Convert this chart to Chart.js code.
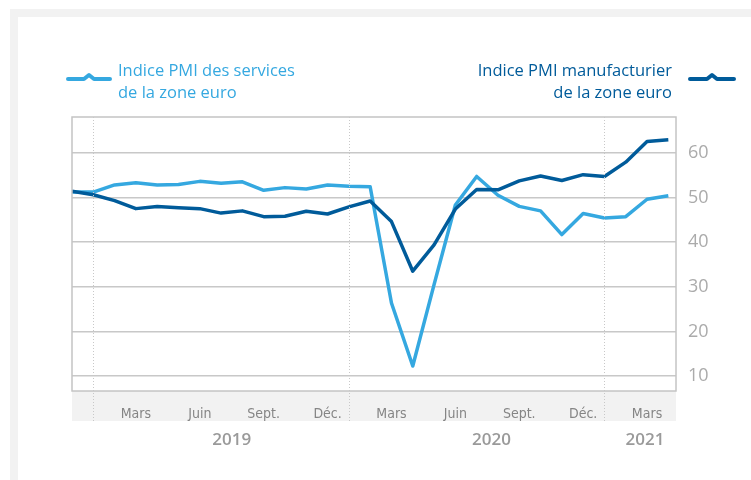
<!DOCTYPE html>
<html lang="fr">
<head>
<meta charset="UTF-8">
<title>PMI zone euro</title>
<script src="https://cdn.jsdelivr.net/npm/chart.js"></script>
<style>
  html, body { margin: 0; padding: 0; background: #fff; }
  body { width: 751px; height: 480px; position: relative; overflow: hidden; font-family: "Open Sans", sans-serif; }
  #frame { position: absolute; left: 10px; top: 9px; width: 800px; height: 500px; border-left: 8px solid #f2f2f2; border-top: 8px solid #f2f2f2; background: #fff; }
  #chart-wrap { position: absolute; left: 0; top: 0; width: 751px; height: 480px; }
  .legend { position: absolute; font-size: 16.5px; line-height: 22px; font-weight: 500; }
  #leg-serv { left: 118px; top: 59px; color: #35a8e0; }
  #leg-manu { right: 79px; top: 59px; color: #005b9a; text-align: right; }
  .icon { position: absolute; }
</style>
</head>
<body>
<div id="frame"></div>
<div id="chart-wrap"><canvas id="pmi-chart" width="751" height="480"></canvas></div>

<svg class="icon" style="left:66px; top:70px;" width="46" height="14">
  <path d="M2 9 H18 L23 5 L28 9 H44" fill="none" stroke="#35a8e0" stroke-width="4" stroke-linecap="round" stroke-linejoin="round"/>
</svg>
<div class="legend" id="leg-serv">Indice PMI des services<br>de la zone euro</div>

<svg class="icon" style="left:688px; top:70px;" width="48" height="14">
  <path d="M2 9 H19 L24 5 L29 9 H46" fill="none" stroke="#005b9a" stroke-width="4" stroke-linecap="round" stroke-linejoin="round"/>
</svg>
<div class="legend" id="leg-manu">Indice PMI manufacturier<br>de la zone euro</div>

<script>
// Monthly, Dec 2018 -> Apr 2021
const months = ['Déc. 2018',
  'Janv. 2019', 'Févr. 2019', 'Mars 2019', 'Avr. 2019', 'Mai 2019', 'Juin 2019',
  'Juil. 2019', 'Août 2019', 'Sept. 2019', 'Oct. 2019', 'Nov. 2019', 'Déc. 2019',
  'Janv. 2020', 'Févr. 2020', 'Mars 2020', 'Avr. 2020', 'Mai 2020', 'Juin 2020',
  'Juil. 2020', 'Août 2020', 'Sept. 2020', 'Oct. 2020', 'Nov. 2020', 'Déc. 2020',
  'Janv. 2021', 'Févr. 2021', 'Mars 2021', 'Avr. 2021'];

const services = [51.2,
  51.2, 52.8, 53.3, 52.8, 52.9, 53.6, 53.2, 53.5, 51.6, 52.2, 51.9, 52.8,
  52.5, 52.4, 26.4, 12.3, 30.5, 48.3, 54.7, 50.5, 48.0, 47.0, 41.7, 46.4,
  45.4, 45.7, 49.6, 50.4];

const manufacturing = [51.4,
  50.6, 49.3, 47.5, 48.0, 47.7, 47.5, 46.5, 47.0, 45.7, 45.8, 46.9, 46.3,
  47.9, 49.2, 44.6, 33.5, 39.4, 47.4, 51.8, 51.7, 53.7, 54.8, 53.8, 55.1,
  54.7, 57.9, 62.5, 62.9];

const yTicks = [10, 20, 30, 40, 50, 60];
const tickMonths = [3, 6, 9, 12, 15, 18, 21, 24, 27];
const tickLabels = ['Mars', 'Juin', 'Sept.', 'Déc.', 'Mars', 'Juin', 'Sept.', 'Déc.', 'Mars'];
const yearStarts = [1, 13, 25];
const years = ['2019', '2020', '2021'];
const yearLabelAt = [7.5, 19.7, 26.9];

const toXY = arr => arr.map((v, i) => ({ x: i, y: v }));

// grey band under the plot, frame, dotted year separators, year labels
const decorPlugin = {
  id: 'decor',
  beforeDraw(chart) {
    const { ctx, chartArea: a } = chart;
    ctx.save();
    ctx.fillStyle = '#f2f2f2';
    ctx.fillRect(a.left, a.bottom, a.right - a.left, 30);
    ctx.restore();
  },
  afterDraw(chart) {
    const { ctx, chartArea: a, scales: { x } } = chart;
    ctx.save();
    ctx.strokeStyle = '#c4c4c4';
    ctx.lineWidth = 1.5;
    ctx.strokeRect(a.left, a.top, a.right - a.left, a.bottom - a.top);

    ctx.strokeStyle = '#c8c8c8';
    ctx.lineWidth = 1;
    ctx.setLineDash([1, 2]);
    yearStarts.forEach(m => {
      const px = Math.round(x.getPixelForValue(m)) + 0.5;
      ctx.beginPath();
      ctx.moveTo(px, a.top);
      ctx.lineTo(px, a.bottom + 30);
      ctx.stroke();
    });
    ctx.setLineDash([]);

    ctx.fillStyle = '#9a9a9a';
    ctx.font = '600 17px "Open Sans", sans-serif';
    ctx.textAlign = 'center';
    ctx.textBaseline = 'middle';
    years.forEach((yr, i) => {
      ctx.fillText(yr, x.getPixelForValue(yearLabelAt[i]), a.bottom + 49);
    });
    ctx.restore();
  }
};

new Chart(document.getElementById('pmi-chart'), {
  type: 'line',
  data: {
    datasets: [
      {
        label: 'Indice PMI manufacturier de la zone euro',
        data: toXY(manufacturing),
        borderColor: '#005b9a',
        borderWidth: 3.5,
        pointRadius: 0,
        tension: 0,
        borderJoinStyle: 'round'
      },
      {
        label: 'Indice PMI des services de la zone euro',
        data: toXY(services),
        borderColor: '#35a8e0',
        borderWidth: 3.5,
        pointRadius: 0,
        tension: 0,
        borderJoinStyle: 'round'
      }
    ]
  },
  options: {
    responsive: false,
    animation: false,
    layout: { padding: { left: 72, top: 117, right: 0, bottom: 59 } },
    plugins: { legend: { display: false }, tooltip: { enabled: false } },
    scales: {
      x: {
        type: 'linear',
        min: 0,
        max: 28.36,
        afterBuildTicks: s => { s.ticks = tickMonths.map(v => ({ value: v })); },
        afterFit: s => { s.height = 30; },
        grid: { display: false },
        border: { display: false },
        ticks: {
          autoSkip: false,
          maxRotation: 0,
          padding: 7,
          color: '#858585',
          font: { family: '"Liberation Sans Narrow", "DejaVu Sans Condensed", sans-serif', size: 14 },
          callback: (v) => tickLabels[tickMonths.indexOf(v)]
        }
      },
      y: {
        position: 'right',
        min: 6.7,
        max: 68,
        afterBuildTicks: s => { s.ticks = yTicks.map(v => ({ value: v })); },
        afterFit: s => { s.width = 75; },
        grid: { color: '#c8c8c8', lineWidth: 1.5, drawTicks: false },
        border: { display: false },
        ticks: {
          padding: 12,
          color: '#ababab',
          font: { family: '"Open Sans", sans-serif', size: 18 }
        }
      }
    }
  },
  plugins: [decorPlugin]
});
</script>
</body>
</html>
